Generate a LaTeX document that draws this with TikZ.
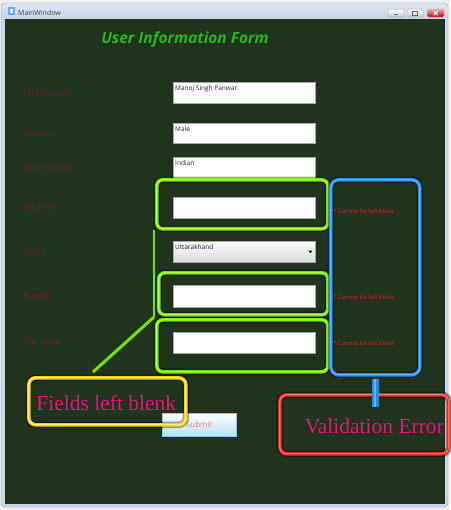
\documentclass[tikz,border=0pt]{standalone}
\usepackage{fontspec}
\setmainfont{Liberation Serif}
\newfontfamily\uifont{Open Sans}
\definecolor{formbg}{RGB}{31,51,29}
\definecolor{framebl}{RGB}{196,214,234}
\definecolor{labelred}{RGB}{128,18,54}
\definecolor{titlegreen}{RGB}{40,182,28}
\definecolor{limeA}{RGB}{118,226,0}
\definecolor{limeB}{RGB}{178,255,70}
\definecolor{blueA}{RGB}{28,136,250}
\definecolor{blueB}{RGB}{96,186,255}
\definecolor{redA}{RGB}{250,30,30}
\definecolor{redB}{RGB}{255,120,120}
\definecolor{yelA}{RGB}{255,206,0}
\definecolor{yelB}{RGB}{255,240,110}
\definecolor{pinktext}{RGB}{232,18,128}
\definecolor{errred}{RGB}{222,34,34}
\usetikzlibrary{positioning}
\tikzset{
  lbl/.style={font=\uifont\fontsize{9.5}{11}\selectfont, text=labelred, anchor=west, inner sep=0pt},
  field/.style={draw=gray!70, fill=white, anchor=north west, minimum width=142pt, minimum height=21pt, inner sep=0pt},
  fieldtext/.style={font=\uifont\fontsize{6.5}{7}\selectfont, text=black!85, anchor=north west, inner sep=0pt, xshift=2pt, yshift=-3pt},
  errtext/.style={font=\uifont\fontsize{6}{7}\selectfont, text=errred, anchor=west, inner sep=0pt},
  glowbox/.style={anchor=north west, inner sep=0pt, rounded corners=6pt,
    preaction={draw=black, draw opacity=.35, line width=6.5pt},
    draw=#1A, line width=3.6pt, postaction={draw=#1B, line width=1.2pt}},
  note/.style={font=\fontsize{21.5}{24}\selectfont, text=pinktext, inner sep=0pt},
  winbtn/.style={anchor=north west, minimum width=16pt, minimum height=8pt, inner sep=0pt, rounded corners=1.5pt, draw=gray!60}
}
\begin{document}
\begin{tikzpicture}[x=1pt,y=-1pt]
\useasboundingbox (0,0) rectangle (450,510);
\fill[gray!12] (0,0) rectangle (450,510);
% window frame and title bar
\draw[gray!70, fill=framebl, rounded corners=4pt] (1,3) rectangle (448,507);
\shade[top color=framebl!60!white, bottom color=framebl, rounded corners=4pt] (1.5,3.5) rectangle (447.5,19);
\fill[blueA!70] (8,7) rectangle (15,15);
\fill[white] (10,9) rectangle (13,13);
\node[font=\uifont\fontsize{7}{8}\selectfont, text=black!75, anchor=west, inner sep=0pt] (wintitle) at (18,13) {MainWindow};
\node[winbtn, top color=white, bottom color=framebl!80!gray] (minbtn) at (388,9) {};
\node[winbtn, top color=white, bottom color=framebl!80!gray] (maxbtn) at (407,9) {};
\node[winbtn, top color=red!35!white, bottom color=red!70!black, minimum width=17pt] (closebtn) at (427,9) {};
\draw[gray!80!black, line width=1pt] ([xshift=-2pt,yshift=-1pt]minbtn.center) -- ([xshift=2pt,yshift=-1pt]minbtn.center);
\draw[gray!80!black, line width=.8pt] ([xshift=-2.5pt,yshift=-2pt]maxbtn.center) rectangle ([xshift=2.5pt,yshift=2pt]maxbtn.center);
\draw[white, line width=1pt] ([xshift=-2pt,yshift=-2pt]closebtn.center) -- ([xshift=2pt,yshift=2pt]closebtn.center)
  ([xshift=-2pt,yshift=2pt]closebtn.center) -- ([xshift=2pt,yshift=-2pt]closebtn.center);
\fill[formbg] (5,19) rectangle (445,504);
% form
\node[font=\uifont\bfseries\itshape\fontsize{15.5}{18}\selectfont, text=titlegreen, inner sep=0pt] (formtitle) at (185,39) {User Information Form};
\node[lbl] (lname) at (23,93) {Full Name};
\node[lbl] (lgender) at (23,133) {Gender};
\node[lbl] (lnation) at (23,168) {Nationality};
\node[lbl] (laddress) at (23,207) {Address};
\node[lbl] (lstate) at (23,251) {State};
\node[lbl] (lmail) at (23,296) {E-mail};
\node[lbl] (lzip) at (23,342) {Zip code};
\node[field] (fname) at (173,82) {};
\node[field, minimum height=20pt] (fgender) at (173,123) {};
\node[field] (fnation) at (173,157) {};
\node[field] (faddress) at (173,197) {};
\node[field, top color=gray!3, bottom color=gray!28] (fstate) at (173,241) {};
\node[field, minimum height=22pt] (fmail) at (173,285) {};
\node[field] (fzip) at (173,332) {};
\node[fieldtext] (tname) at (fname.north west) {Manoj Singh Panwar};
\node[fieldtext] (tgender) at (fgender.north west) {Male};
\node[fieldtext] (tnation) at (fnation.north west) {Indian};
\node[fieldtext] (tstate) at (fstate.north west) {Uttarakhand};
\fill[black] ([xshift=-7pt,yshift=1pt]fstate.east) -- ++(4,0) -- ++(-2,2.5) -- cycle;
\node[draw=blueA!50, top color=white, bottom color=blueB!45!white, anchor=north west, minimum width=74pt, minimum height=23pt, inner sep=0pt,
  font=\uifont\fontsize{8}{9}\selectfont, text=orange!60!red!70!white] (submit) at (162,413) {Submit};
\node[errtext] (eaddress) at (333,211) {* Cannot be left blank};
\node[errtext] (email) at (333,297) {* Cannot be left blank};
\node[errtext] (ezip) at (333,343) {* Cannot be left blank};
% highlight boxes
\node[glowbox=lime, minimum width=171pt, minimum height=49pt] (gaddress) at (155,178) {};
\node[glowbox=lime, minimum width=169pt, minimum height=42pt] (gmail) at (157,271) {};
\node[glowbox=lime, minimum width=171pt, minimum height=52pt] (gzip) at (155,318) {};
\node[glowbox=blue, minimum width=89pt, minimum height=195pt, rounded corners=8pt] (gerror) at (329,178) {};
\coordinate (bluetip) at (368.5,407);
\draw[blueA, line width=7pt] (gerror.south) ++(0,2) coordinate (bluebase) -- (bluebase |- bluetip);
\node[glowbox=yel, minimum width=157pt, minimum height=47pt, rounded corners=7pt] (blank) at (27,376) {};
\node[glowbox=red, minimum width=169pt, minimum height=59pt, rounded corners=7pt] (valid) at (278,393) {};
\draw[blueA, line width=7pt] (bluebase) -- (bluebase |- bluetip);
\draw[blueB, line width=2pt] (bluebase) -- (bluebase |- bluetip);
\node[note] (blanktext) at ([xshift=-1pt,yshift=-2pt]blank.center) {Fields left blenk};
\node[note] (validtext) at ([xshift=10pt,yshift=-2pt]valid.center) {Validation Error};
% connectors to the yellow note
\coordinate (leadtop) at (154,230);
\coordinate (leadknee) at (154,317);
\coordinate (leadend) at (93,372);
\draw[limeA, line width=2pt] (leadtop) -- (leadknee);
\draw[limeA, line width=3pt] (leadknee) -- (leadend);
\end{tikzpicture}
\end{document}
